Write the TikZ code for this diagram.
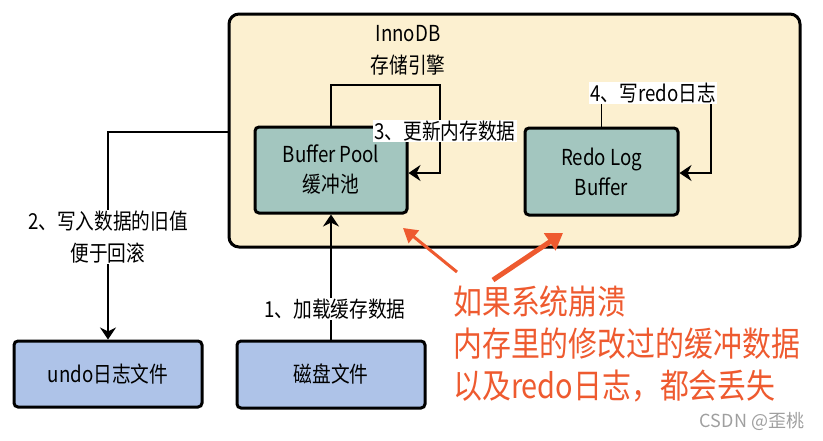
\documentclass[tikz,border=0pt]{standalone}
\usepackage{fontspec}
\setmainfont{Noto Sans CJK SC}[FakeStretch=0.85]
\newfontfamily\wmfont{Noto Sans CJK SC}
\usetikzlibrary{arrows.meta}
\definecolor{panelfill}{HTML}{FCF0D0}
\definecolor{tealfill}{HTML}{A3C6BF}
\definecolor{bluefill}{HTML}{AEC3E8}
\definecolor{warnred}{HTML}{EE5A2F}
\tikzset{
  panel/.style={draw=black, line width=3pt, rounded corners=10pt, fill=panelfill, inner sep=0pt},
  membox/.style={draw=black, line width=3pt, rounded corners=4pt, fill=tealfill, align=center,
     font=\fontsize{22}{30}\selectfont, inner sep=0pt},
  filebox/.style={draw=black, line width=3pt, rounded corners=4pt, fill=bluefill, align=center,
     font=\fontsize{22}{30}\selectfont, inner sep=0pt},
  conn/.style={draw=black, line width=1.3pt, -{Stealth[length=12pt,width=16pt,inset=4pt]}},
  lbl/.style={fill=white, inner sep=1pt, align=center, font=\fontsize{22}{32}\selectfont},
  redarrow/.style={draw=warnred, line width=3pt, -{Triangle[length=14pt,width=16pt]}},
  redarrowb/.style={draw=warnred, line width=5pt, -{Triangle[length=16pt,width=20pt]}},
  redtxt/.style={text=warnred, align=left, inner sep=0pt, font=\fontsize{34}{42}\selectfont},
}
\begin{document}
\begin{tikzpicture}[x=1pt,y=-1pt]
\useasboundingbox (0,0) rectangle (823,440);
% panel
\node[panel, minimum width=571pt, minimum height=233pt] (inno) at (514.5,130.5) {};
\node[align=center, inner sep=0pt, font=\fontsize{22}{32}\selectfont] (title) at (408,50) {InnoDB\\存储引擎};
% boxes
\node[membox, minimum width=152pt, minimum height=86pt] (bp) at (331,170) {Buffer Pool\\缓冲池};
\node[membox, minimum width=153pt, minimum height=87pt] (rl) at (601.5,171.5) {Redo Log\\Buffer};
\node[filebox, minimum width=188pt, minimum height=66pt] (undo) at (108,374) {undo日志文件};
\node[filebox, minimum width=188pt, minimum height=67pt] (disk) at (331,374.5) {磁盘文件};
% arrow 1
\draw[conn] (disk.north) -- (bp.south);
\node[lbl] (l1) at (335,309) {1、加载缓存数据};
% loop 3
\coordinate (c3) at (440,85);
\draw[conn] (bp.north) |- (c3) |- ([yshift=-3pt]bp.east);
\node[lbl] (l3) at (445,131) {3、更新内存数据};
% loop 4
\coordinate (c4) at (711,92);
\draw[conn] (rl.north) |- (c4) |- ([yshift=-1.5pt]rl.east);
\node[lbl] (l4) at (653,93) {4、写redo日志};
% line 2
\coordinate (c2) at (108,132);
\draw[conn] ([yshift=-1.5pt]inno.west) -- (c2) -- (undo.north);
\node[lbl] (l2) at (108,237) {2、写入数据的旧值\\便于回滚};
% red arrows
\coordinate (r1s) at (457,272);
\coordinate (r1e) at (403,228);
\coordinate (r2s) at (493,280);
\coordinate (r2e) at (563,233);
\draw[redarrow] (r1s) -- (r1e);
\draw[redarrowb] (r2s) -- (r2e);
\node[redtxt, anchor=west] (crash) at (453,344) {如果系统崩溃\\内存里的修改过的缓冲数据\\以及redo日志，都会丢失};
% watermark
\node[text=gray!75, inner sep=0pt, font=\wmfont\fontsize{18}{18}\selectfont] (wm) at (752,421) {CSDN @歪桃};
\end{tikzpicture}
\end{document}
